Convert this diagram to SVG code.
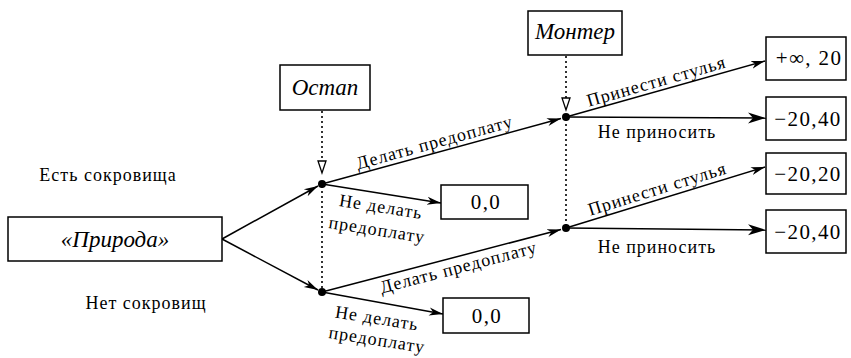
<svg xmlns="http://www.w3.org/2000/svg" width="851" height="358" viewBox="0 0 851 358">
<style>
.box{fill:#fff;stroke:#000;stroke-width:1.5}
.edge{stroke:#000;stroke-width:1.5;fill:none}
.dot{stroke:#000;stroke-width:1.6;fill:none;stroke-dasharray:2 3}
.lbl{font-family:"Liberation Serif","Times New Roman","DejaVu Serif",serif;font-size:18px;letter-spacing:1px;fill:#000}
.pay{font-family:"Liberation Serif","Times New Roman","DejaVu Serif",serif;font-size:21px;letter-spacing:1.4px;fill:#000;text-anchor:middle}
.pl{font-family:"Liberation Serif","Times New Roman","DejaVu Serif",serif;font-size:23px;font-style:italic;fill:#000;text-anchor:middle}
.mid{text-anchor:middle}
</style>
<defs>
<marker id="ah" markerUnits="userSpaceOnUse" markerWidth="14" markerHeight="10" refX="14" refY="5" orient="auto">
<path d="M0,1 L14,5 L0,9 L4,5 Z" fill="#000"/>
</marker>
<marker id="ahb" markerUnits="userSpaceOnUse" markerWidth="18" markerHeight="12" refX="18" refY="6" orient="auto">
<path d="M0,0.5 L18,6 L0,11.5 L5,6 Z" fill="#000"/>
</marker>
</defs>

<g id="connectors">
<line class="edge" x1="222" y1="239" x2="318" y2="186" marker-end="url(#ah)"/>
<line class="edge" x1="222" y1="239" x2="318" y2="290" marker-end="url(#ah)"/>
<line class="edge" x1="322" y1="184" x2="561" y2="118.5" marker-end="url(#ah)"/>
<line class="edge" x1="322" y1="184" x2="441" y2="203" marker-end="url(#ah)"/>
<line class="edge" x1="322" y1="292" x2="561" y2="229.5" marker-end="url(#ah)"/>
<line class="edge" x1="322" y1="292" x2="443" y2="314" marker-end="url(#ah)"/>
<line class="edge" x1="566" y1="117" x2="765" y2="61" marker-end="url(#ah)"/>
<line class="edge" x1="566" y1="117" x2="766" y2="118" marker-end="url(#ahb)"/>
<line class="edge" x1="566" y1="228" x2="765" y2="167" marker-end="url(#ah)"/>
<line class="edge" x1="566" y1="228" x2="766" y2="230" marker-end="url(#ahb)"/>
<line class="dot" x1="322" y1="111" x2="322" y2="161"/>
<polygon points="318,161 326,161 322,173" fill="#fff" stroke="#000" stroke-width="1.3"/>
<line class="dot" x1="322" y1="186" x2="322" y2="290"/>
<line class="dot" x1="566" y1="56" x2="566" y2="98"/>
<polygon points="562,98 570,98 566,110" fill="#fff" stroke="#000" stroke-width="1.3"/>
<line class="dot" x1="566" y1="119" x2="566" y2="226"/>
</g>

<g id="nature">
<rect class="box" x="8" y="217" width="214" height="44"/>
<text class="pl" x="115" y="247">«Природа»</text>
</g>
<text class="lbl mid" x="108" y="181">Есть сокровища</text>
<text class="lbl mid" x="146" y="309">Нет сокровищ</text>

<g id="ostap">
<rect class="box" x="280" y="65" width="90" height="45"/>
<text class="pl" x="325" y="95">Остап</text>
</g>
<g id="ostap-node1"><circle cx="322" cy="184" r="4" fill="#000"/></g>
<g id="ostap-node2"><circle cx="322" cy="292" r="4" fill="#000"/></g>

<g id="monter">
<rect class="box" x="528" y="11" width="94" height="44"/>
<text class="pl" x="575" y="39">Монтер</text>
</g>
<g id="monter-node1"><circle cx="566" cy="117" r="4" fill="#000"/></g>
<g id="monter-node2"><circle cx="566" cy="228" r="4" fill="#000"/></g>

<g id="pay00a">
<rect class="box" x="441" y="185" width="87" height="34"/>
<text class="pay" x="486" y="209">0,0</text>
</g>
<g id="pay00b">
<rect class="box" x="443" y="298" width="86" height="35"/>
<text class="pay" x="487" y="323">0,0</text>
</g>
<g id="pay1">
<rect class="box" x="766" y="37" width="80" height="43"/>
<text class="pay" x="809" y="65">+∞, 20</text>
</g>
<g id="pay2">
<rect class="box" x="766" y="97" width="80" height="43"/>
<text class="pay" x="808" y="126">−20,40</text>
</g>
<g id="pay3">
<rect class="box" x="766" y="153" width="80" height="41"/>
<text class="pay" x="808" y="181">−20,20</text>
</g>
<g id="pay4">
<rect class="box" x="766" y="210" width="80" height="43"/>
<text class="pay" x="808" y="239">−20,40</text>
</g>

<g id="labels">
<text class="lbl mid" transform="translate(436,148) rotate(-15.4)">Делать предоплату</text>
<text class="lbl mid" transform="translate(460,273) rotate(-14.7)">Делать предоплату</text>
<text class="lbl mid" transform="translate(380,212.5) rotate(9)">Не делать</text>
<text class="lbl mid" transform="translate(376,235.5) rotate(9)">предоплату</text>
<text class="lbl mid" transform="translate(376,324) rotate(9)">Не делать</text>
<text class="lbl mid" transform="translate(376,345.5) rotate(9)">предоплату</text>
<text class="lbl mid" transform="translate(658,87) rotate(-15.9)">Принести стулья</text>
<text class="lbl mid" transform="translate(659,194.5) rotate(-17.2)">Принести стулья</text>
<text class="lbl mid" x="657" y="138">Не приносить</text>
<text class="lbl mid" x="657" y="253">Не приносить</text>
</g>
</svg>
